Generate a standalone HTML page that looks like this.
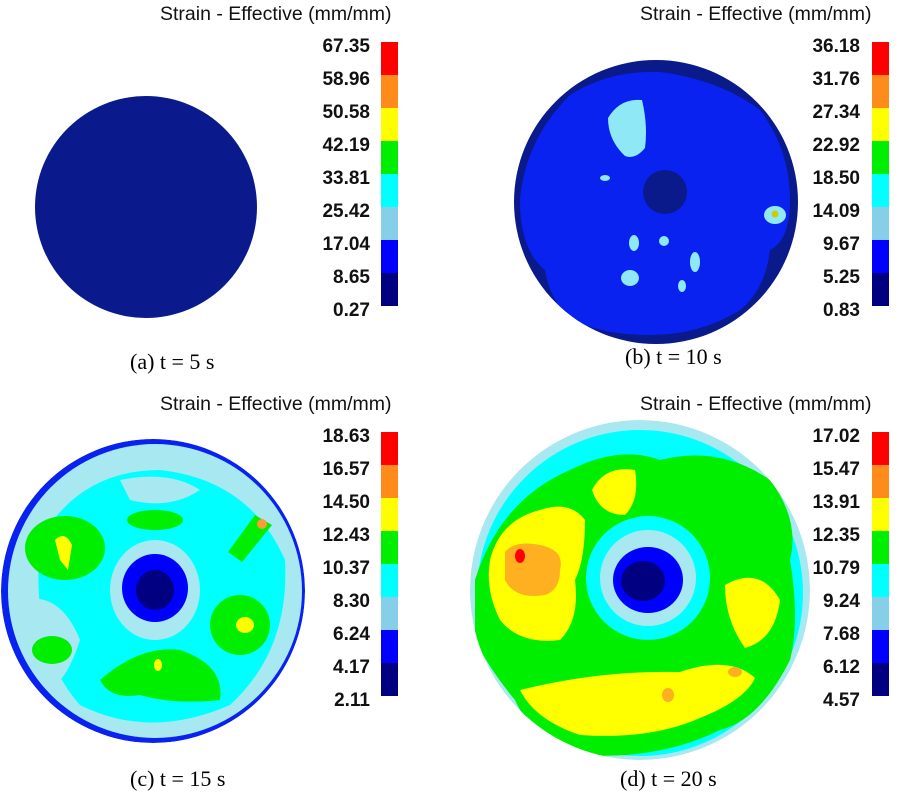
<!DOCTYPE html>
<html><head><meta charset="utf-8"><style>
html,body{margin:0;padding:0;background:#fff;width:902px;height:802px;overflow:hidden}
svg{display:block}
.t{font-family:"Liberation Sans",Arial,sans-serif;font-size:19.5px;fill:#111}
.n{font-family:"Liberation Sans",Arial,sans-serif;font-size:19px;font-weight:bold;fill:#111;text-anchor:end}
.c{font-family:"Liberation Serif","Times New Roman",serif;font-size:22px;fill:#000}
</style></head><body>
<svg width="902" height="802" viewBox="0 0 902 802" xmlns="http://www.w3.org/2000/svg">
<defs>
<g id="bar">
<rect x="0" y="0" width="17" height="33" fill="#ff0000"/>
<rect x="0" y="33" width="17" height="33" fill="#ff8c1a"/>
<rect x="0" y="66" width="17" height="33" fill="#ffff00"/>
<rect x="0" y="99" width="17" height="33" fill="#00ee00"/>
<rect x="0" y="132" width="17" height="33" fill="#00ffff"/>
<rect x="0" y="165" width="17" height="33" fill="#87cfe8"/>
<rect x="0" y="198" width="17" height="33" fill="#0000ff"/>
<rect x="0" y="231" width="17" height="33" fill="#000080"/>
</g>
<clipPath id="cb"><circle cx="656" cy="202" r="142"/></clipPath>
<clipPath id="cc"><circle cx="153" cy="591" r="152"/></clipPath>
<clipPath id="cd"><circle cx="640" cy="590" r="170"/></clipPath>
</defs>

<!-- (a) -->
<text class="t" x="160" y="20">Strain - Effective (mm/mm)</text>
<use href="#bar" x="381" y="42"/>
<g>
<text class="n" x="370" y="52">67.35</text><text class="n" x="370" y="85">58.96</text>
<text class="n" x="370" y="118">50.58</text><text class="n" x="370" y="151">42.19</text>
<text class="n" x="370" y="184">33.81</text><text class="n" x="370" y="217">25.42</text>
<text class="n" x="370" y="250">17.04</text><text class="n" x="370" y="283">8.65</text>
<text class="n" x="370" y="316">0.27</text>
</g>
<circle cx="146" cy="207" r="111" fill="#0a1a8c"/>
<text class="c" x="130" y="369">(a) t = 5 s</text>

<!-- (b) -->
<text class="t" x="640" y="20">Strain - Effective (mm/mm)</text>
<use href="#bar" x="872" y="42"/>
<g>
<text class="n" x="860" y="52">36.18</text><text class="n" x="860" y="85">31.76</text>
<text class="n" x="860" y="118">27.34</text><text class="n" x="860" y="151">22.92</text>
<text class="n" x="860" y="184">18.50</text><text class="n" x="860" y="217">14.09</text>
<text class="n" x="860" y="250">9.67</text><text class="n" x="860" y="283">5.25</text>
<text class="n" x="860" y="316">0.83</text>
</g>
<g clip-path="url(#cb)">
<rect x="500" y="50" width="320" height="320" fill="#0a1a8a"/>
<path d="M520 200 Q525 140 570 95 Q610 70 660 72 Q720 80 760 110 Q790 150 790 200 Q790 240 770 250 Q765 290 740 310 Q700 335 650 335 Q600 335 570 318 Q550 300 545 270 Q520 250 520 200 Z" fill="#0a22f0"/>
<ellipse cx="665" cy="192" rx="22" ry="22" fill="#0a1a8a"/>
<path d="M608 118 Q620 98 642 100 Q648 125 645 148 Q635 160 625 156 Q608 140 608 118Z" fill="#8fe8f5"/>
<ellipse cx="775" cy="215" rx="11" ry="9" fill="#8fe8f5"/>
<circle cx="775" cy="214" r="3.5" fill="#cccc00"/>
<ellipse cx="634" cy="243" rx="5" ry="8" fill="#8fe8f5"/>
<ellipse cx="664" cy="241" rx="5" ry="5" fill="#8fe8f5"/>
<ellipse cx="630" cy="278" rx="9" ry="8" fill="#8fe8f5"/>
<ellipse cx="695" cy="262" rx="5" ry="10" fill="#8fe8f5"/>
<ellipse cx="682" cy="286" rx="4" ry="6" fill="#8fe8f5"/>
<ellipse cx="605" cy="178" rx="5" ry="3" fill="#8fe8f5"/>
</g>
<text class="c" x="625" y="364">(b) t = 10 s</text>

<!-- (c) -->
<text class="t" x="160" y="410">Strain - Effective (mm/mm)</text>
<use href="#bar" x="872" y="432" style="display:none"/>
<use href="#bar" x="381" y="432"/>
<g>
<text class="n" x="370" y="442">18.63</text><text class="n" x="370" y="475">16.57</text>
<text class="n" x="370" y="508">14.50</text><text class="n" x="370" y="541">12.43</text>
<text class="n" x="370" y="574">10.37</text><text class="n" x="370" y="607">8.30</text>
<text class="n" x="370" y="640">6.24</text><text class="n" x="370" y="673">4.17</text>
<text class="n" x="370" y="706">2.11</text>
</g>
<g clip-path="url(#cc)">
<circle cx="153" cy="591" r="152" fill="#0a22f0"/>
<circle cx="155" cy="591" r="147" fill="#a8e8f0"/>
<path d="M40 540 Q80 470 160 470 Q250 480 285 560 Q290 650 230 705 Q150 740 80 705 Q30 650 40 540Z" fill="#00ffff"/>
<path d="M20 600 Q60 590 80 640 Q60 700 40 680Z" fill="#a8e8f0"/>
<path d="M120 480 Q170 470 200 490 Q170 510 130 500Z" fill="#a8e8f0"/>
<ellipse cx="155" cy="590" rx="45" ry="50" fill="#a8e8f0"/>
<ellipse cx="155" cy="588" rx="33" ry="34" fill="#0000ff"/>
<ellipse cx="155" cy="590" rx="19" ry="20" fill="#000080"/>
<ellipse cx="65" cy="548" rx="40" ry="32" fill="#00ee00"/>
<path d="M55 540 Q65 530 72 545 L68 570 L60 560Z" fill="#ffff00"/>
<ellipse cx="240" cy="625" rx="30" ry="30" fill="#00ee00"/>
<ellipse cx="245" cy="625" rx="9" ry="8" fill="#ffff00"/>
<path d="M100 680 Q140 645 180 650 Q225 665 220 700 Q175 705 140 695 Q110 700 100 680Z" fill="#00ee00"/>
<ellipse cx="158" cy="665" rx="4" ry="6" fill="#ffff00"/>
<ellipse cx="52" cy="650" rx="20" ry="14" fill="#00ee00"/>
<ellipse cx="155" cy="520" rx="28" ry="10" fill="#00ee00"/>
<path d="M228 552 L255 515 L272 525 L242 562 Z" fill="#00ee00"/>
<circle cx="262" cy="524" r="5" fill="#ff9933"/>
</g>
<text class="c" x="130" y="786">(c) t = 15 s</text>

<!-- (d) -->
<text class="t" x="640" y="410">Strain - Effective (mm/mm)</text>
<use href="#bar" x="872" y="432"/>
<g>
<text class="n" x="860" y="442">17.02</text><text class="n" x="860" y="475">15.47</text>
<text class="n" x="860" y="508">13.91</text><text class="n" x="860" y="541">12.35</text>
<text class="n" x="860" y="574">10.79</text><text class="n" x="860" y="607">9.24</text>
<text class="n" x="860" y="640">7.68</text><text class="n" x="860" y="673">6.12</text>
<text class="n" x="860" y="706">4.57</text>
</g>
<g clip-path="url(#cd)">
<circle cx="640" cy="590" r="170" fill="#a8e8f0"/>
<circle cx="640" cy="593" r="163" fill="#00ffff"/>
<path d="M475 580 Q500 500 570 470 Q620 445 660 460 Q720 445 770 480 Q800 520 790 560 Q800 620 790 660 Q760 720 720 730 Q660 760 580 755 Q530 735 515 700 Q490 670 475 640 Z" fill="#00ee00"/>
<path d="M490 560 Q500 520 540 510 Q570 500 585 520 Q585 560 575 580 Q580 620 560 640 Q520 645 500 620 Q485 590 490 560Z" fill="#ffff00"/>
<path d="M505 552 Q515 540 540 545 Q565 550 560 570 Q560 590 545 595 Q515 600 505 580Z" fill="#ffb020"/>
<ellipse cx="520" cy="556" rx="5" ry="7" fill="#ff0000"/>
<path d="M592 490 Q605 465 635 470 Q640 500 625 515 Q600 515 592 490Z" fill="#ffff00"/>
<path d="M725 585 Q760 565 780 600 Q775 640 745 648 Q725 620 725 585Z" fill="#ffff00"/>
<path d="M520 690 Q600 670 680 672 Q730 655 755 678 Q745 700 700 718 Q650 740 580 735 Q535 720 520 690Z" fill="#ffff00"/>
<ellipse cx="668" cy="695" rx="6" ry="7" fill="#ffb020"/>
<ellipse cx="735" cy="672" rx="7" ry="5" fill="#ffb020"/>
<ellipse cx="648" cy="578" rx="62" ry="62" fill="#00ffff"/>
<ellipse cx="648" cy="578" rx="48" ry="48" fill="#a8e8f0"/>
<ellipse cx="648" cy="580" rx="35" ry="33" fill="#0000ff"/>
<ellipse cx="643" cy="581" rx="22" ry="20" fill="#000080"/>
</g>
<text class="c" x="620" y="786">(d) t = 20 s</text>
</svg>
</body></html>
